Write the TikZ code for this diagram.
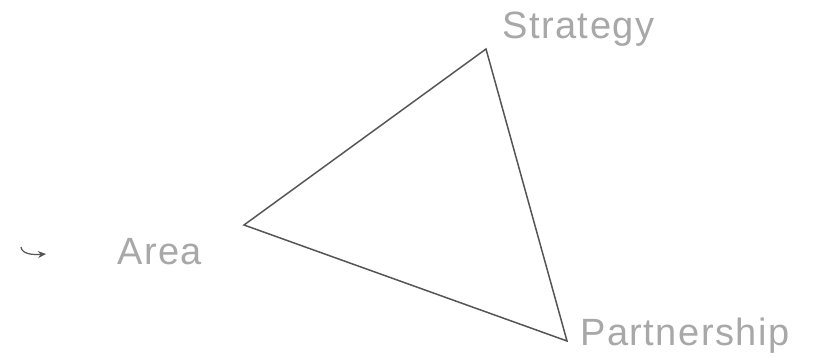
\documentclass[tikz,border=0pt]{standalone}
\usepackage{fontspec}
\setmainfont{Liberation Sans}
\usetikzlibrary{arrows.meta}
\definecolor{lbl}{HTML}{A8A8A8}
\definecolor{edge}{HTML}{555555}
\begin{document}
\begin{tikzpicture}[x=1pt,y=-1pt,
  lab/.style={inner sep=0pt, text=lbl, font=\fontsize{38}{40}\addfontfeatures{LetterSpace=4}\selectfont},
  side/.style={draw=edge, line width=1.5pt, line join=miter},
  hook/.style={draw=edge, line width=1.2pt, -{Stealth[length=8pt,width=7pt]}}]
\useasboundingbox[fill=white] (0,0) rectangle (814,358);
\coordinate (top) at (486,49);
\coordinate (left) at (244,225);
\coordinate (bot) at (567,341);
\draw[side] (top) -- (left) -- (bot) -- cycle;
\node[lab, anchor=base west] (strategy) at (502,39) {Strategy};
\node[lab, anchor=base west] (area) at (117,265) {Area};
\node[lab, anchor=base west] (partnership) at (580,345) {Partnership};
\coordinate (hs) at (21,247);
\coordinate (he) at (46,254);
\draw[hook] (hs) .. controls (22,254) and (32,255) .. (he);
\end{tikzpicture}
\end{document}
